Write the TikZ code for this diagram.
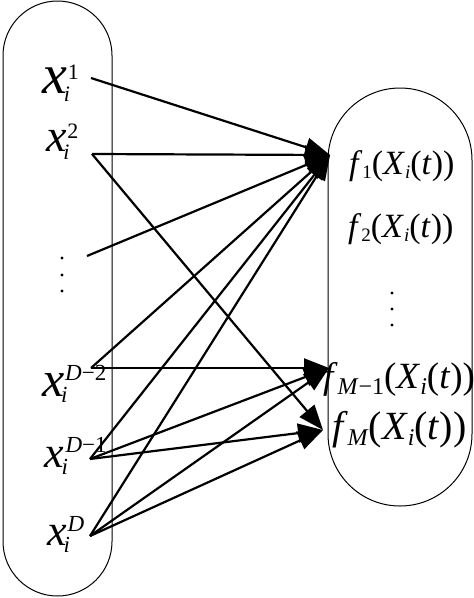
\documentclass[tikz,border=0pt]{standalone}
\usepackage{fontspec}
\setmainfont{Liberation Serif}
\usetikzlibrary{arrows.meta}
\newcommand\xlab[6]{{\fontsize{#1}{#1}\selectfont\itshape x}%
\makebox[0pt][l]{\hspace*{#6}\raisebox{-#5}{\fontsize{#2}{#2}\selectfont\itshape i}}%
\hspace*{1pt}\raisebox{#4}{\fontsize{#2}{#2}\selectfont #3}}
\newcommand\flab[4]{{\fontsize{#1}{#1}\selectfont
\textit{f}\raisebox{-#4}{\fontsize{#2}{#2}\selectfont #3}(\textit{X}\raisebox{-#4}{\fontsize{#2}{#2}\selectfont\textit{i}}(\textit{t}))}}
\tikzset{
  capsule/.style={draw=black, line width=1pt},
  lab/.style={inner sep=0pt, outer sep=0pt, anchor=base west},
  dotmark/.style={circle, fill=black, inner sep=0pt, minimum size=3.2pt},
  conn/.style={line width=2.2pt, -{Triangle[length=25pt,width=19pt]}}
}
\begin{document}
\begin{tikzpicture}[x=1pt,y=-1pt]
\useasboundingbox (0,0) rectangle (474,598);
% capsules
\draw[capsule, rounded corners=54.5pt] (3,1) rectangle (112,596);
\draw[capsule, rounded corners=72pt] (328,88) rectangle (472,506);
% left labels
\node[lab] (x1) at (42,93) {\xlab{56pt}{22pt}{1}{14pt}{8pt}{-3pt}};
\node[lab] (x2) at (46,151) {\xlab{46pt}{22pt}{2}{13pt}{8pt}{-3pt}};
\node[dotmark] (ld1) at (62,258) {};
\node[dotmark] (ld2) at (62,275) {};
\node[dotmark] (ld3) at (62,291) {};
\node[lab] (x3) at (42,396) {\xlab{50pt}{23pt}{\textit{D}−2}{16pt}{6pt}{-3pt}};
\node[lab] (x4) at (45,467) {\xlab{44pt}{23pt}{\textit{D}−1}{15pt}{7pt}{-3pt}};
\node[lab] (x5) at (47,545) {\xlab{44pt}{23pt}{\textit{D}}{14pt}{7pt}{-3pt}};
% right labels
\node[lab] (f1) at (349,174) {\flab{34pt}{19pt}{1}{4pt}};
\node[lab] (f2) at (348,237) {\flab{34pt}{19pt}{2}{4pt}};
\node[dotmark] (rd1) at (392,293) {};
\node[dotmark] (rd2) at (392,309) {};
\node[dotmark] (rd3) at (392,325) {};
\node[lab] (f3) at (323,388) {\flab{37pt}{24pt}{\textit{M}−1}{6pt}};
\node[lab] (f4) at (332,439) {\flab{40pt}{24pt}{\textit{M}}{6pt}};
% connector ends
\coordinate (s1) at (91,78);
\coordinate (s2) at (92,154);
\coordinate (s3) at (87,256);
\coordinate (s4) at (91,368);
\coordinate (s5) at (90,459);
\coordinate (s6) at (90,536);
\coordinate (tA) at (330,155);
\coordinate (tB) at (329,368);
\coordinate (tC) at (323,430);
% connectors
\draw[conn] (s1) -- (tA);
\draw[conn] (s2) -- (tA);
\draw[conn] (s3) -- (tA);
\draw[conn] (s4) -- (tA);
\draw[conn] (s5) -- (tA);
\draw[conn] (s6) -- (tA);
\draw[conn] (s4) -- (tB);
\draw[conn] (s5) -- (tB);
\draw[conn] (s6) -- (tB);
\draw[conn] (s2) -- (tC);
\draw[conn] (s5) -- (tC);
\draw[conn] (s6) -- (tC);
\end{tikzpicture}
\end{document}
